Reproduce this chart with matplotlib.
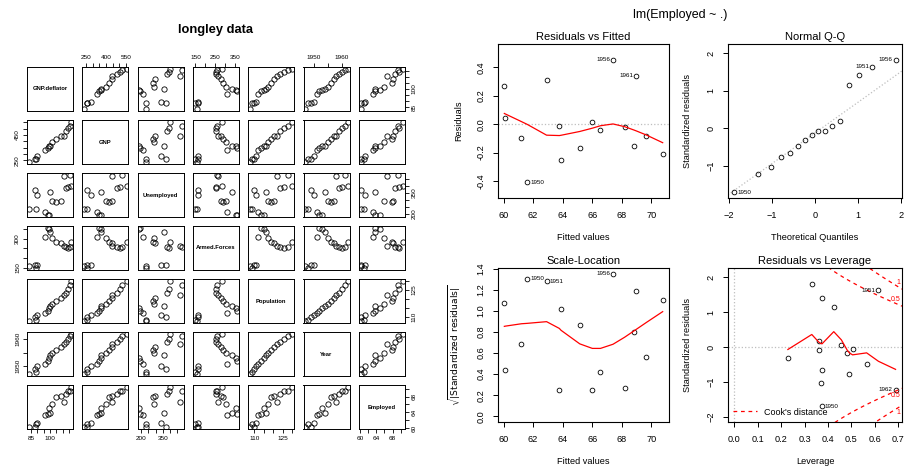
import numpy as np
import matplotlib
matplotlib.use("Agg")
import matplotlib.pyplot as plt

plt.rcParams['font.family'] = ['Liberation Sans', 'DejaVu Sans']

# longley data
var_names = ["GNP.deflator", "GNP", "Unemployed", "Armed.Forces", "Population", "Year", "Employed"]
gnp_deflator = [83.0, 88.5, 88.2, 89.5, 96.2, 98.1, 99.0, 100.0, 101.2, 104.6, 108.4, 110.8, 112.6, 114.2, 115.7, 116.9]
gnp = [234.289, 259.426, 258.054, 284.599, 328.975, 346.999, 365.385, 363.112, 397.469, 419.180, 442.769, 444.546, 482.704, 502.601, 518.173, 554.894]
unemployed = [235.6, 232.5, 368.2, 335.1, 209.9, 193.2, 187.0, 357.8, 290.4, 282.2, 293.6, 468.1, 381.3, 393.1, 480.6, 400.7]
armed_forces = [159.0, 145.6, 161.6, 165.0, 309.9, 359.4, 354.7, 335.0, 304.8, 285.7, 279.8, 263.7, 255.2, 251.4, 257.2, 282.7]
population = [107.608, 108.632, 109.773, 110.929, 112.075, 113.270, 115.094, 116.219, 117.388, 118.734, 120.445, 121.950, 123.366, 125.368, 127.852, 130.081]
year = [1947, 1948, 1949, 1950, 1951, 1952, 1953, 1954, 1955, 1956, 1957, 1958, 1959, 1960, 1961, 1962]
employed = [60.323, 61.122, 60.171, 61.187, 63.221, 63.639, 64.989, 63.761, 66.019, 67.857, 68.169, 66.513, 68.655, 69.564, 69.331, 70.551]
columns = [gnp_deflator, gnp, unemployed, armed_forces, population, year, employed]

# pairs tick marks and labels (blank = tick without label)
pair_ticks = [
    [85, 90, 95, 100, 105, 110, 115],
    [250, 300, 350, 400, 450, 500, 550],
    [200, 250, 300, 350, 400, 450],
    [150, 200, 250, 300, 350],
    [110, 115, 120, 125, 130],
    [1950, 1955, 1960],
    [60, 62, 64, 66, 68, 70],
]
pair_labels_top = {1: ["250", "", "", "400", "", "", "550"],
                   3: ["150", "", "250", "", "350"],
                   5: ["1950", "", "1960"]}
pair_labels_bottom = {0: ["85", "", "", "100", "", "", ""],
                      2: ["200", "", "", "350", "", ""],
                      4: ["110", "", "", "125", ""],
                      6: ["60", "", "64", "", "68", ""]}
pair_labels_left = {1: ["250", "", "", "", "450", "", ""],
                    3: ["150", "", "", "300", ""],
                    5: ["1950", "", "1960"]}
pair_labels_right = {0: ["85", "", "", "100", "", "", ""],
                     2: ["200", "", "", "350", "", ""],
                     4: ["110", "", "", "125", ""],
                     6: ["60", "", "64", "", "68", ""]}

# lm(Employed ~ .) diagnostics
fitted = [60.0557, 61.2160, 60.1247, 61.5971, 62.9113, 63.8883, 65.1530, 63.7742, 66.0047, 67.4016, 68.1863, 66.5521, 68.8105, 69.6497, 68.9891, 70.7578]
residuals = [0.2673, -0.0940, 0.0463, -0.4101, 0.3097, -0.2493, -0.1640, -0.0132, 0.0143, 0.4554, -0.0173, -0.0391, -0.1555, -0.0857, 0.3419, -0.2068]
std_resid = [1.1560, -0.4676, 0.1901, -1.6979, 1.6384, -1.0300, -0.7547, -0.0614, 0.0637, 1.8258, -0.0708, -0.1782, -0.6451, -0.3199, 1.4163, -1.2154]
leverage = [0.4245, 0.5650, 0.3621, 0.3722, 0.6155, 0.3696, 0.4915, 0.5047, 0.4571, 0.3306, 0.3599, 0.4831, 0.3743, 0.2284, 0.3729, 0.6886]
theo_quant = [0.7764, -0.4023, 0.5791, -1.8627, 1.3180, -1.0100, -0.7764, 0.2372, 0.4023, 1.8627, 0.0784, -0.0784, -0.5791, -0.2372, 1.0100, -1.3180]
qq_slope, qq_intercept = 0.8184, -0.1204
# lowess smooths, values at sorted x
smooth_resid = [0.0757, 0.0721, 0.0182, -0.0008, -0.0771, -0.0798, -0.0778, -0.0511, -0.0279, -0.0108, 0.0019, -0.0173, -0.0406, -0.0477, -0.0757, -0.1300]
smooth_scale = [0.8523, 0.8544, 0.8770, 0.8807, 0.8968, 0.8326, 0.8150, 0.6865, 0.6434, 0.6433, 0.6827, 0.7492, 0.8084, 0.8255, 0.8886, 0.9917]
smooth_lev = [-0.0648, 0.3653, 0.1507, 0.1395, 0.1093, 0.1020, 0.1002, 0.0971, 0.4464, 0.2106, -0.0969, -0.1616, -0.2188, -0.1613, -0.4030, -0.6345]
cook_levels = [0.5, 1.0]
n_coef = 7
# labelled observations per panel
id_fitted = ["1956", "1950", "1961"]
id_qq = ["1956", "1950", "1951"]
id_scale = ["1956", "1950", "1951"]
id_lev = ["1951", "1962", "1950"]

W, H = 905, 468
fig = plt.figure(figsize=(W / 100, H / 100), dpi=100)


def add_px(x0, y0, w, h):
    return fig.add_axes([x0 / W, 1 - (y0 + h) / H, w / W, h / H])


def ext(vals, f=0.04):
    lo, hi = min(vals), max(vals)
    d = (hi - lo) * f
    return lo - d, hi + d


# ---------------- pairs plot ----------------
fig.text(215 / W, 1 - 30 / H, "longley data", ha="center", va="center", fontsize=9.3, weight="bold")
nv = len(columns)
for i in range(nv):
    for j in range(nv):
        ax = add_px(27 + j * 55.3, 67 + i * 53, 46, 44)
        for sp in ax.spines.values():
            sp.set_linewidth(0.7)
        ax.set_xlim(ext(columns[j]))
        ax.set_ylim(ext(columns[i]))
        if i == j:
            ax.text(0.5, 0.5, var_names[i], transform=ax.transAxes, ha="center", va="center",
                    fontsize=4.2, weight="bold")
        else:
            ax.plot(columns[j], columns[i], "o", mfc="none", mec="black", ms=3.8, mew=0.6)
        ax.set_xticks([])
        ax.set_yticks([])
        ax.tick_params(length=3, width=0.6, labelsize=4.6, pad=2)
        if i == 0 and j in pair_labels_top:
            ax.xaxis.set_ticks_position("top")
            ax.set_xticks(pair_ticks[j])
            ax.set_xticklabels(pair_labels_top[j])
        if i == nv - 1 and j in pair_labels_bottom:
            ax.set_xticks(pair_ticks[j])
            ax.set_xticklabels(pair_labels_bottom[j])
        if j == 0 and i in pair_labels_left:
            ax.set_yticks(pair_ticks[i])
            ax.set_yticklabels(pair_labels_left[i], rotation=90, va="center")
        if j == nv - 1 and i in pair_labels_right:
            ax.yaxis.set_ticks_position("right")
            ax.set_yticks(pair_ticks[i])
            ax.set_yticklabels(pair_labels_right[i], rotation=90, va="center")

# ---------------- diagnostics ----------------
fig.text(680 / W, 1 - 15 / H, "lm(Employed ~ .)", ha="center", va="center", fontsize=9)
grey = "#BEBEBE"
years = [str(y) for y in year]


def style(ax, title, xlabel, ylabel):
    for sp in ax.spines.values():
        sp.set_linewidth(0.8)
    ax.set_title(title, fontsize=8, pad=3)
    ax.tick_params(length=3.6, width=0.7, labelsize=6.6, pad=5.5)
    for lab in ax.get_yticklabels():
        lab.set_rotation(90)
        lab.set_va("center")
    ax.set_xlabel(xlabel, fontsize=6.6)
    ax.set_ylabel(ylabel, fontsize=6.6)
    ax.xaxis.set_label_coords(0.5, -0.225)
    ax.yaxis.set_label_coords(-0.205, 0.5)


def label_ids(ax, xs, ys, ids):
    mid = (min(xs) + max(xs)) / 2
    for name in ids:
        k = years.index(name)
        right = xs[k] > mid
        ax.annotate(name, (xs[k], ys[k]), xytext=(-2.2 if right else 2.2, 0), textcoords="offset points",
                    ha="right" if right else "left", va="center", fontsize=4.5, annotation_clip=False)


pt = dict(mfc="none", mec="black", ms=3.4, mew=0.6, ls="none", marker="o")

# Residuals vs Fitted
ax1 = add_px(498, 44, 171, 154)
r_lo, r_hi = ext(residuals, 0.08)
ax1.set_ylim(ext([r_lo, r_hi]))
ax1.set_xlim(ext(fitted))
ax1.axhline(0, color=grey, ls=":", lw=0.9)
ax1.plot(fitted, residuals, **pt)
ax1.plot(np.sort(fitted), smooth_resid, color="red", lw=0.9)
ax1.set_xticks([60, 62, 64, 66, 68, 70])
ax1.set_yticks([-0.4, -0.2, 0.0, 0.2, 0.4])
ax1.set_yticklabels(["-0.4", "-0.2", "0.0", "0.2", "0.4"])
label_ids(ax1, fitted, residuals, id_fitted)
style(ax1, "Residuals vs Fitted", "Fitted values", "Residuals")

# Normal Q-Q
ax2 = add_px(728, 44, 174, 154)
q_lo, q_hi = min(std_resid), max(std_resid)
ax2.set_ylim(ext([q_lo, q_hi + (q_hi - q_lo) * 0.075]))
ax2.set_xlim(ext(theo_quant))
ax2.axline((0, qq_intercept), slope=qq_slope, color=grey, ls=":", lw=0.9)
ax2.plot(theo_quant, std_resid, **pt)
ax2.set_xticks([-2, -1, 0, 1, 2])
ax2.set_yticks([-1, 0, 1, 2])
label_ids(ax2, theo_quant, std_resid, id_qq)
style(ax2, "Normal Q-Q", "Theoretical Quantiles", "Standardized residuals")

# Scale-Location
ax3 = add_px(498, 268, 171, 154)
sqrt_abs = np.sqrt(np.abs(std_resid))
ax3.set_ylim(ext([0, sqrt_abs.max()]))
ax3.set_xlim(ext(fitted))
ax3.plot(fitted, sqrt_abs, **pt)
ax3.plot(np.sort(fitted), smooth_scale, color="red", lw=0.9)
ax3.set_xticks([60, 62, 64, 66, 68, 70])
ax3.set_yticks([0.0, 0.2, 0.4, 0.6, 0.8, 1.0, 1.2, 1.4])
ax3.set_yticklabels(["0.0", "0.2", "0.4", "0.6", "0.8", "1.0", "1.2", "1.4"])
label_ids(ax3, fitted, sqrt_abs, id_scale)
style(ax3, "Scale-Location", "Fitted values", r"$\sqrt{|\mathrm{Standardized\ residuals}|}$")

# Residuals vs Leverage
ax4 = add_px(728, 268, 174, 154)
l_lo, l_hi = ext(std_resid, 0.08)
ax4.set_ylim(ext([l_lo, l_hi]))
xmin, xmax = ext([0, max(leverage)])
ax4.set_xlim(xmin, xmax)
ax4.axhline(0, color=grey, ls=":", lw=0.9)
ax4.axvline(0, color=grey, ls=":", lw=0.9)
ax4.plot(leverage, std_resid, **pt)
ax4.plot(np.sort(leverage), smooth_lev, color="red", lw=0.9)
hh = np.linspace(min(min(leverage), max(leverage) / 100), xmax, 101)
for crit in cook_levels:
    cl = np.sqrt(crit * n_coef * (1 - hh) / hh)
    lbl = "Cook's distance" if crit == cook_levels[0] else None
    ax4.plot(hh, cl, color="red", ls=(0, (3, 3)), lw=0.9, label=lbl)
    ax4.plot(hh, -cl, color="red", ls=(0, (3, 3)), lw=0.9)
    yv = np.sqrt(crit * n_coef * (1 - xmax) / xmax)
    for s in (1, -1):
        ax4.annotate("%g" % crit, (xmax, s * yv), xytext=(-1, 2.5 * s), textcoords="offset points",
                     color="red", fontsize=5, ha="right", va="bottom" if s > 0 else "top")
ax4.set_xticks([0.0, 0.1, 0.2, 0.3, 0.4, 0.5, 0.6, 0.7])
ax4.set_yticks([-2, -1, 0, 1, 2])
label_ids(ax4, leverage, std_resid, id_lev)
ax4.legend(loc="lower left", frameon=False, fontsize=6.5, handlelength=2.6, borderaxespad=0.2, handletextpad=0.8)
style(ax4, "Residuals vs Leverage", "Leverage", "Standardized residuals")

fig.savefig("out.png", dpi=100)
